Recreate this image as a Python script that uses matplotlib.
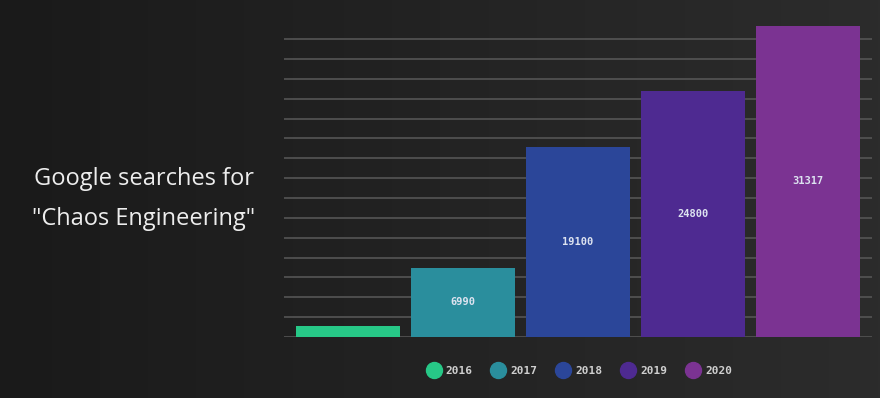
import numpy as np
import matplotlib
matplotlib.use('Agg')
import matplotlib.pyplot as plt
from matplotlib.lines import Line2D
from matplotlib.colors import LinearSegmentedColormap

# ── Datos ──
years = ['2016', '2017', '2018', '2019', '2020']
searches = [1100, 6990, 19100, 24800, 31317]
colors = ['#27c887', '#2a8e9d', '#2b4699', '#4e2a91', '#7b3392']
shown_labels = [None, '6990', '19100', '24800', '31317']
grid_ticks = np.arange(0, 30001, 2000)

W, H = 880, 398
fig = plt.figure(figsize=(W / 100, H / 100), dpi=100)

# Fondo degradado
bg = fig.add_axes([0, 0, 1, 1], zorder=-10)
grad = np.linspace(0, 1, 256).reshape(1, -1)
cmap = LinearSegmentedColormap.from_list('bg', ['#1a1a1a', '#2c2c2c'])
bg.imshow(grad, aspect='auto', cmap=cmap, extent=[0, 1, 0, 1])
bg.set_axis_off()

# Ejes de barras (px: x 284-872, y baseline 337, tope 31317 ~ y 26)
x0, x1 = 284, 872
y_base, y_top = 337, 26
ax = fig.add_axes([x0 / W, 1 - y_base / H, (x1 - x0) / W, (y_base - y_top) / H])
ax.patch.set_alpha(0)

x = np.arange(len(years))
ax.bar(x, searches, width=0.904, color=colors, zorder=3)
ax.set_xlim(-0.557, 4.557)
ax.set_ylim(0, searches[-1])

for xv, val, lab in zip(x, searches, shown_labels):
    if lab:
        ax.text(xv, val / 2, lab, ha='center', va='center', color='#dde3f0',
                fontsize=7.5, fontweight='bold', family='DejaVu Sans Mono', zorder=4)

for t in grid_ticks:
    ax.axhline(t, color='#555555', linewidth=1.2, zorder=1)

ax.set_xticks([])
ax.set_yticks([])
for s in ax.spines.values():
    s.set_visible(False)

# Leyenda
handles = [Line2D([], [], marker='o', linestyle='none', markersize=11.5,
                  markerfacecolor=c, markeredgecolor=c) for c in colors]
leg = fig.legend(handles, years, loc='center', ncol=5,
                 bbox_to_anchor=(580 / W, 1 - 371 / H), frameon=False,
                 handlelength=1.0, handletextpad=0.6, columnspacing=1.8,
                 prop={'family': 'DejaVu Sans Mono', 'weight': 'bold', 'size': 8})
for txt in leg.get_texts():
    txt.set_color('#cfcfcf')

# Título lateral
fig.text(144 / W, 1 - 199 / H, 'Google searches for\n"Chaos Engineering"',
         ha='center', va='center', color='#ededed', fontsize=17,
         family='Open Sans', linespacing=1.86)

fig.savefig('out.png', dpi=100)
